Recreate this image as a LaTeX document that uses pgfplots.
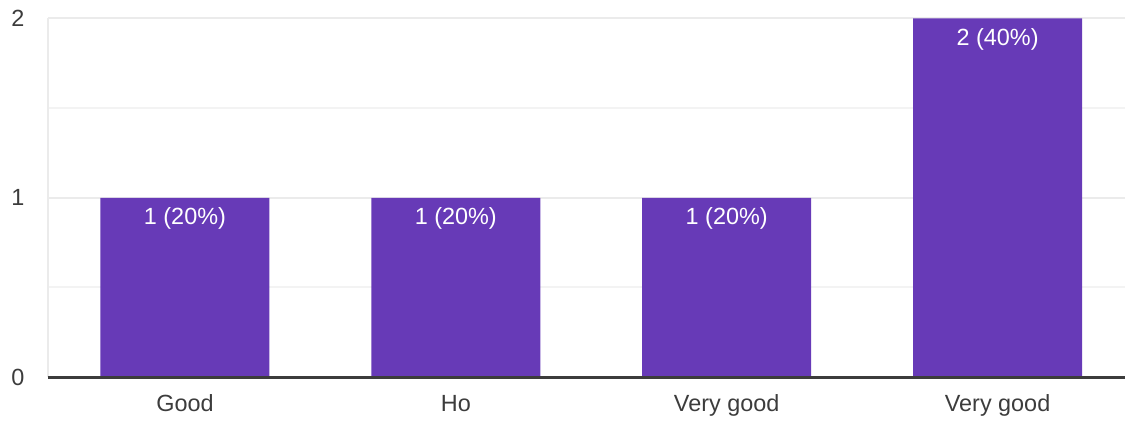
\documentclass[border=0pt]{standalone}
\usepackage{pgfplots}
\pgfplotsset{compat=1.18}
\usepackage{fontspec}
\setmainfont{Liberation Sans}
\definecolor{barpurple}{HTML}{673AB7}
\definecolor{gridc}{HTML}{EBEBEB}
\definecolor{gridm}{HTML}{F3F3F3}
\definecolor{txt}{HTML}{3C3C3C}
\begin{document}
\begin{tikzpicture}[x=1bp,y=1bp]
\path[use as bounding box] (0,0) rectangle (1125,421);
\begin{axis}[
  at={(48bp,44bp)}, anchor=south west,
  scale only axis,
  width=1077bp, height=358.5bp,
  xmin=-0.5055, xmax=3.4705,
  ymin=0, ymax=2,
  clip=false,
  axis lines=none,
  ybar, bar width=169bp,
  xtick={0,1,2,3},
  xticklabels={Good,Ho,Very good,Very good},
  ytick={0,1,2},
  minor ytick={0.5,1.5},
  major tick length=0pt, minor tick length=0pt,
  tick style={draw=none},
  ymajorgrids, yminorgrids,
  major grid style={draw=gridc, line width=2bp},
  minor grid style={draw=gridm, line width=2bp},
  /pgf/number format/assume math mode=true,
  ticklabel style={font=\fontsize{23.5}{27}\selectfont, text=txt},
  yticklabel style={xshift=-20bp},
  xticklabel style={anchor=north, text height=17bp, text depth=5bp, yshift=-14bp},
  hide x axis=false, hide y axis=false,
  nodes near coords,
  point meta=explicit symbolic,
  nodes near coords style={anchor=center, yshift=-21bp, text=white, font=\fontsize{23.5}{27}\selectfont},
]
\draw[gridc, line width=1.5bp] (axis cs:-0.5055,0) -- (axis cs:-0.5055,2);
\addplot[fill=barpurple, draw=none] coordinates {
  (0,1) [1 (20\%)]
  (1,1) [1 (20\%)]
  (2,1) [1 (20\%)]
  (3,2) [2 (40\%)]
};
\draw[txt, line width=3bp] (axis cs:-0.5055,0) -- (axis cs:3.4705,0);
\end{axis}
\end{tikzpicture}
\end{document}
